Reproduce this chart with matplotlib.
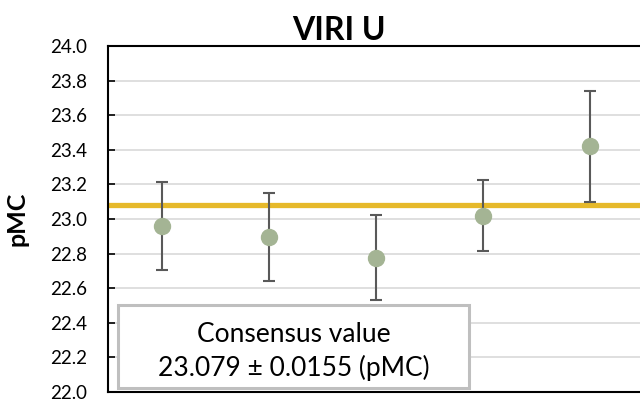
import matplotlib.pyplot as plt

# VIRI U results per lab, with 1-sigma uncertainties
labs = [1, 2, 3, 4, 5]
pmc = [22.96, 22.896, 22.777, 23.019, 23.42]
pmc_err = [0.253, 0.252, 0.245, 0.205, 0.32]

consensus = 23.079
consensus_err = 0.0155

yticks = [22.0, 22.2, 22.4, 22.6, 22.8, 23.0, 23.2, 23.4, 23.6, 23.8, 24.0]

plt.rcParams['font.family'] = ['Lato', 'DejaVu Sans']

fig = plt.figure(figsize=(6.4, 4.0), dpi=100)
ax = fig.add_axes([108 / 640, 8 / 400, 536 / 640, 346 / 400])

ax.set_xlim(0.5, len(labs) + 0.5)
ax.set_ylim(22.0, 24.0)
ax.set_yticks(yticks)
ax.set_yticklabels([f'{t:.1f}' for t in yticks])
ax.set_xticks([])
ax.grid(axis='y', color='#d9d9d9', linewidth=1.2, zorder=0)
ax.set_axisbelow(True)

for side in ['left', 'top', 'bottom', 'right']:
    ax.spines[side].set_linewidth(1.5)
    ax.spines[side].set_color('black')

ax.tick_params(axis='y', direction='in', length=5, width=1.2, pad=15,
               labelsize=13.5, colors='black')

# consensus line
ax.axhline(consensus, color='#e6b92a', linewidth=3.8, zorder=2)

ax.errorbar(labs, pmc, yerr=pmc_err, fmt='o', color='#a4b494', markersize=11.5,
            ecolor='#595959', elinewidth=1.5, capsize=4.5, capthick=1.5,
            zorder=3)

ax.set_ylabel('pMC', fontsize=18, fontweight='bold')
ax.yaxis.set_label_coords(-0.148, 0.5)

fig.text(339 / 640, 1 - 31 / 400, 'VIRI U', fontsize=23, fontweight='bold',
         ha='center', va='center')

# consensus value box
box = plt.Rectangle((0.0187, 0.0116), 0.655, 0.24, transform=ax.transAxes,
                    facecolor='white', edgecolor='#bfbfbf', linewidth=2.2,
                    zorder=4)
ax.add_patch(box)
ax.text(0.0187 + 0.655 / 2, (392 - 335) / 346, 'Consensus value',
        transform=ax.transAxes, ha='center', va='center', fontsize=19,
        zorder=5)
ax.text(0.0187 + 0.655 / 2, (392 - 368) / 346,
        f'{consensus:.3f} ± {consensus_err} (pMC)',
        transform=ax.transAxes, ha='center', va='center', fontsize=19,
        zorder=5)

fig.savefig('out.png', dpi=100)
